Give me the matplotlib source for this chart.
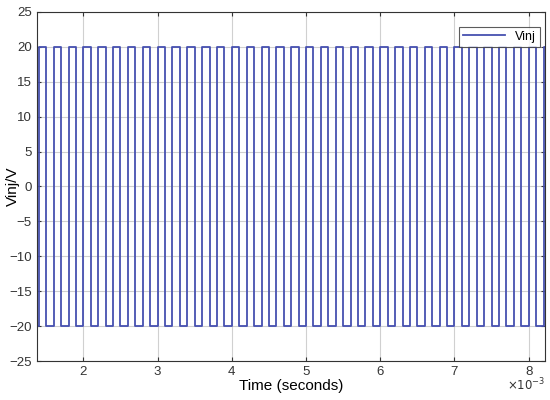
import matplotlib
matplotlib.use("Agg")
import matplotlib.pyplot as plt
import numpy as np

# Rising-edge times of the square wave (ms)
rise_ms = [1.4, 1.6, 1.8, 2.0, 2.2, 2.4, 2.6, 2.8, 3.0, 3.2, 3.4, 3.6,
           3.8, 4.0, 4.2, 4.4, 4.6, 4.8, 5.0, 5.2, 5.4, 5.6, 5.8, 6.0,
           6.2, 6.4, 6.6, 6.8, 7.0, 7.2, 7.4, 7.6, 7.8, 8.0, 8.2]
# Falling-edge times (ms)
fall_ms = [1.5, 1.7, 1.9, 2.1, 2.3, 2.5, 2.7, 2.9, 3.1, 3.3, 3.5, 3.7,
           3.9, 4.1, 4.3, 4.5, 4.7, 4.9, 5.1, 5.3, 5.5, 5.7, 5.9, 6.1,
           6.3, 6.5, 6.7, 6.9, 7.1, 7.3, 7.5, 7.7, 7.9, 8.1, 8.3]
v_high = 20
v_low = -20
t_start_ms = 1.3

plt.rcParams['font.family'] = ['Liberation Sans', 'DejaVu Sans']

# Build step signal
t = [t_start_ms * 1e-3]
v = [v_low]
for r, f in zip(rise_ms, fall_ms):
    t += [r * 1e-3, r * 1e-3, f * 1e-3, f * 1e-3]
    v += [v_low, v_high, v_high, v_low]

fig = plt.figure(figsize=(5.5, 4), dpi=100)
ax = fig.add_axes([0.067, 0.0975, 0.924, 0.8725])
ax.plot(t, v, color='#4650b0', lw=1.3, label='Vinj')

ax.set_xlim(1.373e-3, 8.22e-3)
ax.set_ylim(-25, 25)
ax.set_yticks(np.arange(-25, 26, 5))
ax.set_xticks([2e-3, 3e-3, 4e-3, 5e-3, 6e-3, 7e-3, 8e-3])
ax.set_xticklabels(['2', '3', '4', '5', '6', '7', '8'])
ax.grid(True, color='#d0d0d0', lw=0.8)
ax.set_axisbelow(True)
for s in ax.spines.values():
    s.set_color('#333333')
    s.set_linewidth(0.8)
ax.tick_params(direction='in', length=3, labelsize=9.5, colors='#333333',
               top=True, right=True, labeltop=False, labelright=False)
ax.set_xlabel('Time (seconds)', fontsize=11, labelpad=1)
ax.set_ylabel('Vinj/V', fontsize=11)
ax.yaxis.set_label_coords(-0.033, 0.5)
ax.text(1.0, -0.068, r'$\times10^{-3}$', transform=ax.transAxes,
        ha='right', va='center', fontsize=8.5, color='#333333')
leg = ax.legend(loc='upper right', fontsize=9, frameon=True, fancybox=False,
                edgecolor='#333333', handlelength=3.4, borderpad=0.3,
                borderaxespad=0, bbox_to_anchor=(0.99, 0.957))
leg.get_frame().set_linewidth(0.8)

fig.savefig('out.png', dpi=100)
